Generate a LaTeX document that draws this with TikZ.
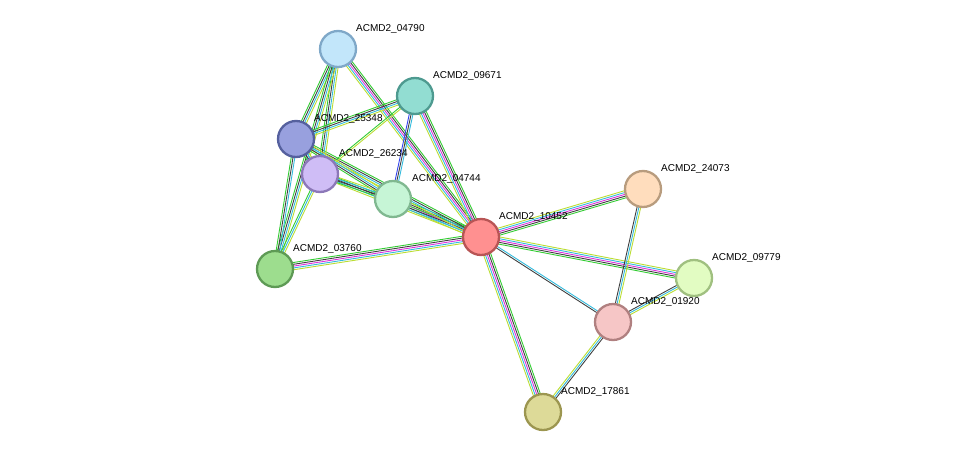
\documentclass[tikz,border=0pt]{standalone}
\usetikzlibrary{calc}
\usepackage{fontspec}
\setmainfont{Liberation Sans}
\definecolor{eg}{HTML}{33CC33}
\definecolor{ek}{HTML}{404040}
\definecolor{em}{HTML}{DD33DD}
\definecolor{ec}{HTML}{33BBDD}
\definecolor{ey}{HTML}{BBDD33}
\definecolor{eb}{HTML}{3344EE}
\definecolor{f1}{HTML}{C2E6FA}\definecolor{d1}{HTML}{7FA8C8}
\definecolor{f2}{HTML}{92DDD2}\definecolor{d2}{HTML}{4E9A90}
\definecolor{f3}{HTML}{98A0DE}\definecolor{d3}{HTML}{55609E}
\definecolor{f4}{HTML}{CFBDF6}\definecolor{d4}{HTML}{8C78B8}
\definecolor{f5}{HTML}{C6F5D6}\definecolor{d5}{HTML}{80B890}
\definecolor{f6}{HTML}{FF9090}\definecolor{d6}{HTML}{B85555}
\definecolor{f7}{HTML}{9DDD8E}\definecolor{d7}{HTML}{5E9A55}
\definecolor{f8}{HTML}{FFDDBD}\definecolor{d8}{HTML}{B89C7E}
\definecolor{f9}{HTML}{E2FCC2}\definecolor{d9}{HTML}{A0C080}
\definecolor{f10}{HTML}{F6C6C6}\definecolor{d10}{HTML}{B08080}
\definecolor{f11}{HTML}{DDDA98}\definecolor{d11}{HTML}{9C9650}
\tikzset{
  prot/.style={circle,draw,line width=2.3pt,minimum size=36pt,inner sep=0pt},
  lab/.style={font=\fontsize{10}{12}\selectfont,anchor=south west,inner sep=1pt},
}
% \pedge{a}{b}{colors}
\newcommand\pedge[3]{%
  \foreach \c [count=\i] in {#3} {\xdef\nn{\i}}%
  \foreach \c [count=\i] in {#3} {%
    \pgfmathsetmacro\off{(\i-(\nn+1)/2)*1.8}%
    \draw[\c,line width=0.9pt] ($(#1)!\off pt!90:(#2)$) -- ($(#2)!\off pt!-90:(#1)$);
  }}
\begin{document}
\begin{tikzpicture}[x=1pt,y=-1pt]
\useasboundingbox (0,0) rectangle (976,458);
\coordinate (p04790) at (338,49);
\coordinate (p09671) at (415,96);
\coordinate (p25348) at (296,139);
\coordinate (p26234) at (320,174);
\coordinate (p04744) at (393,199);
\coordinate (p10452) at (481,237);
\coordinate (p03760) at (275,269);
\coordinate (p24073) at (643,189);
\coordinate (p09779) at (694,278);
\coordinate (p01920) at (613,322);
\coordinate (p17861) at (543,412);
\pedge{p10452}{p24073}{eg,ek,em,ec,ey}
\pedge{p10452}{p09779}{eg,ek,em,ec,ey}
\pedge{p10452}{p01920}{ek,ec}
\pedge{p10452}{p17861}{ey,ec,em,ek,eg}
\pedge{p24073}{p01920}{ek,ec,ey}
\pedge{p09779}{p01920}{ek,ec,ey}
\pedge{p01920}{p17861}{ey,ec,ek}
\pedge{p10452}{p03760}{eg,ek,em,ec,ey}
\pedge{p10452}{p04744}{eg,ek,em,ec,ey}
\pedge{p10452}{p26234}{eg,ek,ec,ey}
\pedge{p10452}{p25348}{eg,ek,ec,ey}
\pedge{p10452}{p04790}{eg,ek,em,ec,ey}
\pedge{p10452}{p09671}{eg,ek,em,ec,ey}
\pedge{p04790}{p25348}{eg,ek,ec,ey}
\pedge{p04790}{p26234}{eg,ek,ec,ey}
\pedge{p04790}{p03760}{eg,ek,ec,ey}
\pedge{p09671}{p25348}{eg,ek,ec,ey}
\pedge{p09671}{p26234}{eg,ey}
\pedge{p09671}{p04744}{eb,ek,ec}
\pedge{p25348}{p26234}{eg,ek,ec,ey}
\pedge{p25348}{p04744}{eg,ek,ec,ey}
\pedge{p25348}{p03760}{eg,ek,ec}
\pedge{p26234}{p04744}{eg,ek,ec,ey}
\pedge{p26234}{p03760}{eg,ec,ey}
\node[prot,fill=f1,draw=d1] (n04790) at (p04790) {};
\node[prot,fill=f2,draw=d2] (n09671) at (p09671) {};
\node[prot,fill=f3,draw=d3] (n25348) at (p25348) {};
\node[prot,fill=f4,draw=d4] (n26234) at (p26234) {};
\node[prot,fill=f5,draw=d5] (n04744) at (p04744) {};
\node[prot,fill=f6,draw=d6] (n10452) at (p10452) {};
\node[prot,fill=f7,draw=d7] (n03760) at (p03760) {};
\node[prot,fill=f8,draw=d8] (n24073) at (p24073) {};
\node[prot,fill=f9,draw=d9] (n09779) at (p09779) {};
\node[prot,fill=f10,draw=d10] (n01920) at (p01920) {};
\node[prot,fill=f11,draw=d11] (n17861) at (p17861) {};
\node[lab] at (355,35) {ACMD2\_04790};
\node[lab] at (432,82) {ACMD2\_09671};
\node[lab] at (313,125) {ACMD2\_25348};
\node[lab] at (338,160) {ACMD2\_26234};
\node[lab] at (411,185) {ACMD2\_04744};
\node[lab] at (498,223) {ACMD2\_10452};
\node[lab] at (292,255) {ACMD2\_03760};
\node[lab] at (660,175) {ACMD2\_24073};
\node[lab] at (711,264) {ACMD2\_09779};
\node[lab] at (630,308) {ACMD2\_01920};
\node[lab] at (560,398) {ACMD2\_17861};
\end{tikzpicture}
\end{document}
